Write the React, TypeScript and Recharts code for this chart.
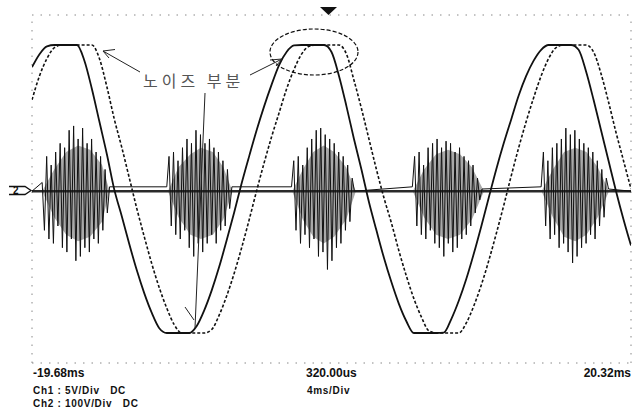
import { Area, ComposedChart, Line, ReferenceLine, XAxis, YAxis } from "recharts";

// time base: -19.68ms .. 20.32ms, 4ms/div; y in divisions (8 div tall)
const T0 = -19.68;
const T1 = 20.32;
const DT = 0.5;

// solid trace, one value every 0.5ms
const CH1 = [
  2.8, 3.1, 3.28, 3.31, 3.31, 3.31, 3.31, 2.95, 2.3, 1.55, 0.8, -0.02, -0.63, -1.27, -1.87, -2.4, -2.85,
  -3.2, -3.31, -3.31, -3.31, -3.31, -3.15, -2.79, -2.33, -1.79, -1.18, -0.54, 0.13, 0.75, 1.35, 1.9, 2.4,
  2.85, 3.15, 3.3, 3.31, 3.31, 3.31, 3.31, 3.15, 2.6, 1.9, 1.15, 0.45, -0.3, -0.95, -1.58, -2.14, -2.64,
  -3.04, -3.31, -3.31, -3.31, -3.31, -3.3, -2.99, -2.57, -2.07, -1.49, -0.86, -0.2, 0.45, 1.05, 1.6, 2.15,
  2.6, 2.95, 3.2, 3.31, 3.31, 3.31, 3.31, 3.2, 2.7, 2.05, 1.35, 0.65, -0.05, -0.7, -1.3,
];

// dotted trace, lagging slightly
const CH2 = [
  2.05, 2.6, 3.0, 3.25, 3.31, 3.31, 3.31, 3.31, 3.31, 3.0, 2.35, 1.6, 0.95, 0.25, -0.45, -1.1, -1.72,
  -2.27, -2.74, -3.12, -3.31, -3.31, -3.31, -3.31, -3.23, -2.9, -2.46, -1.94, -1.35, -0.71, -0.04, 0.6, 1.2,
  1.75, 2.3, 2.75, 3.1, 3.28, 3.31, 3.31, 3.31, 3.31, 3.1, 2.5, 1.85, 1.15, 0.45, -0.2, -0.78, -1.42, -2.0,
  -2.52, -2.94, -3.26, -3.31, -3.31, -3.31, -3.31, -3.08, -2.69, -2.21, -1.65, -1.03, -0.38, 0.3, 0.95,
  1.55, 2.1, 2.6, 3.0, 3.25, 3.31, 3.31, 3.31, 3.31, 3.15, 2.65, 2.0, 1.3, 0.65, 0.0,
];

// noise bursts, sampled every 0.15ms from each start time
const BASE = -0.05;
const NOISE_STEP = 0.15;
const BURST_START = [-19.0, -10.68, -2.35, 5.72, 14.32];
const BURST_1 = [0.2, -0.9, 0.8, -1.1, 0.6, -1.2, 0.9, -0.8, 1.1, -1.3, 1.0, -1.4, 1.4, -1.1, 1.5, -1.6, 1.2, -1.5, 1.45, -1.3, 1.1, -1.4, 1.2, -1.1, 0.9, -1.2, 0.8, -0.9, 0.5, -0.5, 0.1];
const BURST_2 = [0.1, 0.8, -0.8, 0.9, -1.0, 0.7, -1.1, 1.0, -0.9, 1.2, -1.3, 1.1, -1.5, 1.4, -1.2, 1.3, -1.4, 1.1, -1.2, 1.2, -1.0, 1.0, -1.2, 0.9, -0.9, 0.7, -0.8, 0.5, -0.4, 0.1];
const BURST_3 = [0.1, 0.7, -0.9, 0.8, -1.2, 0.6, -1.0, 1.0, -1.3, 1.2, -1.1, 1.4, -1.5, 1.45, -1.4, 1.3, -1.8, 1.2, -1.6, 1.1, -1.3, 0.9, -1.2, 0.8, -0.9, 0.6, -0.7, 0.3, 0.0];
const BURST_4 = [0.1, 0.8, -0.8, 0.9, -1.0, 0.6, -1.1, 1.0, -0.9, 1.1, -1.2, 1.2, -1.3, 1.0, -1.5, 1.15, -1.2, 1.1, -1.4, 0.9, -1.3, 1.0, -1.1, 0.8, -1.0, 0.7, -0.8, 0.6, -0.5, 0.3, -0.2, 0.05];
const BURST_5 = [0.1, 0.9, -0.8, 0.7, -1.1, 1.0, -1.0, 1.1, -1.3, 1.2, -1.2, 1.45, -1.4, 1.3, -1.65, 1.4, -1.5, 1.2, -1.3, 1.1, -1.2, 1.0, -1.0, 0.9, -1.1, 0.7, -0.8, 0.5, -0.6, 0.3, 0.05];
const BURSTS = [BURST_1, BURST_2, BURST_3, BURST_4, BURST_5];

// grey envelope of the bursts
const ENV_T = [
  -19.0, -18.2, -17.4, -16.6, -15.8, -15.0, -14.5,
  -10.6, -9.9, -9.1, -8.4, -7.6, -6.9, -6.3,
  -2.3, -1.6, -0.9, -0.2, 0.5, 1.3, 1.95,
  5.75, 6.5, 7.3, 8.1, 8.9, 9.7, 10.5,
  14.35, 15.1, 15.85, 16.6, 17.35, 18.1, 18.85,
];
const ENV_HI = [
  0, 0.5, 0.9, 1.05, 0.95, 0.6, 0,
  0, 0.55, 0.85, 1.0, 0.9, 0.55, 0,
  0, 0.5, 0.9, 1.05, 0.9, 0.55, 0,
  0, 0.5, 0.85, 0.95, 0.85, 0.55, 0,
  0, 0.5, 0.9, 1.0, 0.9, 0.55, 0,
];
const ENV_LO = [
  0, -0.6, -1.0, -1.15, -1.05, -0.7, 0,
  0, -0.6, -1.0, -1.1, -1.0, -0.65, 0,
  0, -0.65, -1.05, -1.2, -1.05, -0.65, 0,
  0, -0.6, -1.0, -1.1, -1.0, -0.65, 0,
  0, -0.6, -1.05, -1.15, -1.0, -0.6, 0,
];

const sineData = CH1.map((v, i) => ({ t: +(T0 + i * DT).toFixed(2), ch1: v, ch2: CH2[i] }));

const noiseData: { t: number; v: number }[] = [{ t: T0, v: BASE }];
BURSTS.forEach((b, n) => {
  b.forEach((v, i) => noiseData.push({ t: +(BURST_START[n] + i * NOISE_STEP).toFixed(2), v: BASE + v }));
});
noiseData.push({ t: T1, v: BASE });

const envData = [
  { t: T0, band: [BASE, BASE] },
  ...ENV_T.map((t, i) => ({ t, band: [BASE + ENV_LO[i], BASE + ENV_HI[i]] })),
  { t: T1, band: [BASE, BASE] },
];

const W = 632;
const H = 410;
const frame = { stroke: "#888", strokeDasharray: "1.5 7", strokeWidth: 1 };
const label = { fontFamily: "Liberation Sans, Arial, sans-serif", fontWeight: 700, fontSize: 12, fill: "#111" };
const small = { ...label, fontSize: 10, letterSpacing: 0.7 };

export default function App() {
  return (
    <div style={{ position: "absolute", left: 0, top: 0, width: W, height: H, background: "#fff" }}>
      <ComposedChart data={envData} width={W} height={H} margin={{ top: 15, right: 1, bottom: 47, left: 32 }}>
        <XAxis type="number" dataKey="t" domain={[T0, T1]} hide allowDataOverflow />
        <YAxis type="number" domain={[-4, 4]} hide allowDataOverflow />
        <ReferenceLine y={4} {...frame} />
        <ReferenceLine y={-4} {...frame} />
        <ReferenceLine x={T0} {...frame} />
        <ReferenceLine x={T1} {...frame} />
        <Area
          dataKey="band"
          type="linear"
          stroke="none"
          fill="#a9a9a9"
          fillOpacity={1}
          isAnimationActive={false}
        />
        <ReferenceLine y={BASE} stroke="#2a2a2a" strokeWidth={2.5} />
        <Line
          data={noiseData}
          dataKey="v"
          type="linear"
          stroke="#111"
          strokeWidth={1}
          dot={false}
          isAnimationActive={false}
        />
        <Line
          data={sineData}
          dataKey="ch2"
          type="monotone"
          stroke="#111"
          strokeWidth={1.6}
          strokeDasharray="3 2"
          dot={false}
          isAnimationActive={false}
        />
        <Line
          data={sineData}
          dataKey="ch1"
          type="monotone"
          stroke="#111"
          strokeWidth={1.8}
          dot={false}
          isAnimationActive={false}
        />
      </ComposedChart>

      <svg width={W} height={H} style={{ position: "absolute", left: 0, top: 0, pointerEvents: "none" }}>
        {/* trigger marker */}
        <polygon points="320,7 337,7 328.5,15" fill="#111" />
        {/* channel marker */}
        <path d="M9 186.5 L25 186.5 L31 190.5 L25 194.5 L9 194.5" fill="none" stroke="#111" strokeWidth={1.3} />
        <text x={13} y={194} fontFamily="Liberation Sans, Arial, sans-serif" fontWeight={700} fontSize={10} fill="#111">
          2
        </text>
        {/* annotation */}
        <text
          x={143}
          y={87}
          fontFamily="Noto Sans CJK KR, sans-serif"
          fontSize={16}
          letterSpacing={4}
          fill="#555"
        >
          노이즈 부분
        </text>
        <path d="M140 72 L103 51 M103 51 L115 49.5 M103 51 L109 58" fill="none" stroke="#222" strokeWidth={1} />
        <path d="M250 75 L282 59 M282 59 L270 60 M282 59 L276 66" fill="none" stroke="#222" strokeWidth={1} />
        <path d="M205 93 L195 328 M185 307 L194 320" fill="none" stroke="#222" strokeWidth={1} />
        <ellipse cx={314} cy={52} rx={44} ry={23} fill="none" stroke="#111" strokeWidth={1.2} strokeDasharray="4 2" />
        {/* readouts */}
        <text x={33} y={377} {...label}>-19.68ms</text>
        <text x={306} y={377} {...label}>320.00us</text>
        <text x={631} y={377} textAnchor="end" {...label}>20.32ms</text>
        <text x={307} y={394} {...small}>4ms/Div</text>
        <text x={33} y={394} {...small} xmlSpace="preserve">Ch1 : 5V/Div   DC</text>
        <text x={33} y={407} {...small} xmlSpace="preserve">Ch2 : 100V/Div   DC</text>
      </svg>
    </div>
  );
}
